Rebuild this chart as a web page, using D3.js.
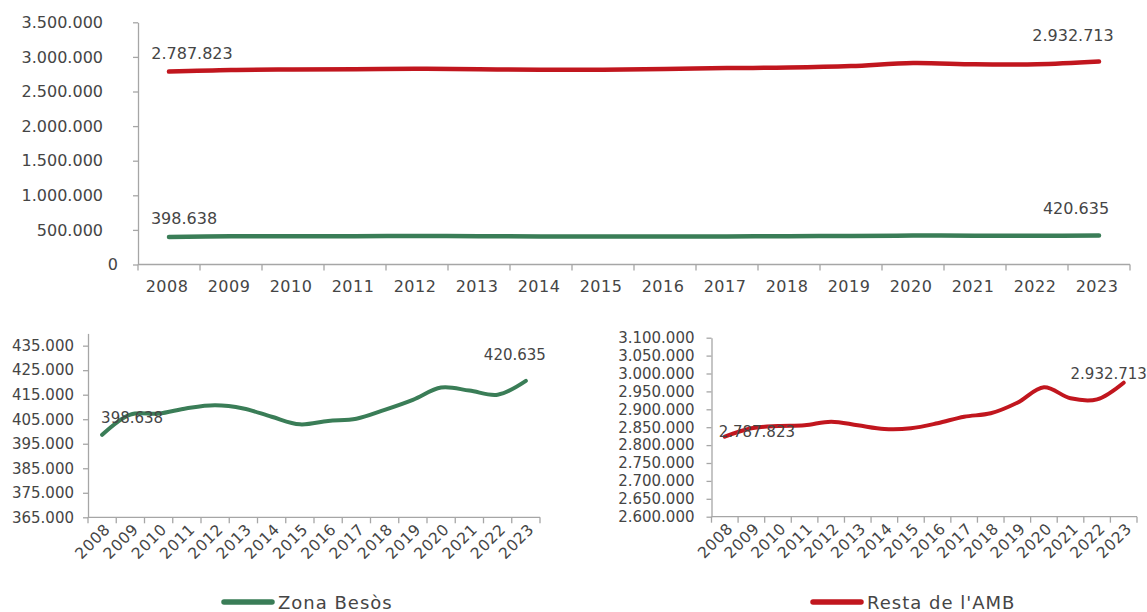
<!DOCTYPE html>
<html>
<head>
<meta charset="utf-8">
<script src="https://cdn.jsdelivr.net/npm/d3@7"></script>
<style>
  body { margin: 0; background: #fff; }
  svg { display: block; font-family: "DejaVu Sans", sans-serif; }
</style>
</head>
<body>
<div id="chart"></div>
<script>
// Years on every x axis
const years = ['2008', '2009', '2010', '2011', '2012', '2013', '2014', '2015',
  '2016', '2017', '2018', '2019', '2020', '2021', '2022', '2023'];

// Zona Besòs (green), same values in the top chart and the bottom-left chart
const zonaBesos = [398638, 406900, 407300, 409500, 410700, 409400, 406000, 402900,
  404300, 405200, 408800, 412900, 417900, 416700, 415000, 420635];

// Resta de l'AMB (red) as drawn in the top chart
const restaAmb = [2787823, 2812000, 2818000, 2820000, 2828000, 2822000, 2814000, 2815000,
  2824000, 2838000, 2846000, 2868000, 2912000, 2892000, 2893000, 2932713];

// Resta de l'AMB as drawn in the bottom-right detail chart
const restaAmbDetail = [2823500, 2846900, 2853400, 2855300, 2865400, 2855300, 2845000, 2847000,
  2861000, 2879300, 2888800, 2918400, 2961500, 2930700, 2927900, 2974300];

// Y axis ticks
const topTicks = [0, 500000, 1000000, 1500000, 2000000, 2500000, 3000000, 3500000];
const besosTicks = [365000, 375000, 385000, 395000, 405000, 415000, 425000, 435000];
const restaTicks = [2600000, 2650000, 2700000, 2750000, 2800000, 2850000, 2900000,
  2950000, 3000000, 3050000, 3100000];

// Labels shown at the ends of the lines
const besosLabels = ['398.638', '420.635'];
const restaLabels = ['2.787.823', '2.932.713'];

const RED = '#c1161e';
const GREEN = '#3a7d57';
const AXIS = '#a6a6a6';
const TEXT = '#454545';
const FONT = '"DejaVu Sans", sans-serif';

const width = 1147, height = 612;

const locale = d3.formatLocale({ decimal: ',', thousands: '.', grouping: [3], currency: ['', ''] });
const fmt = locale.format(',d');

const svg = d3.select('#chart').append('svg')
  .attr('width', width)
  .attr('height', height);

svg.append('rect').attr('width', width).attr('height', height).attr('fill', '#fff');

const curve = d3.curveCatmullRom.alpha(0.5);

function drawPanel(cfg) {
  const g = svg.append('g');

  const x = d3.scaleBand().domain(years).range(cfg.xRange).paddingInner(0).paddingOuter(0);
  const y = d3.scaleLinear().domain(cfg.yDomain).range(cfg.yRange);
  const axisY = y(cfg.yDomain[0]);

  // y axis
  const ya = g.append('g')
    .attr('transform', `translate(${cfg.xRange[0]},0)`)
    .call(d3.axisLeft(y).tickValues(cfg.ticks).tickFormat(fmt)
      .tickSize(5).tickSizeOuter(0).tickPadding(cfg.tickPad));
  ya.attr('font-family', FONT);
  ya.select('.domain').attr('stroke', AXIS).attr('stroke-width', 1.3);
  ya.selectAll('.tick line').attr('stroke', AXIS).attr('stroke-width', 1.3);
  ya.selectAll('.tick text')
    .attr('font-size', cfg.fontSize)
    .attr('font-family', FONT)
    .attr('fill', TEXT)
    .attr('x', d => -(d === 0 && cfg.zeroPad ? cfg.zeroPad : cfg.tickPad + 5));

  // x axis: line and ticks at band edges
  const xa = g.append('g');
  xa.append('line')
    .attr('x1', cfg.xRange[0]).attr('x2', cfg.xRange[1])
    .attr('y1', axisY).attr('y2', axisY)
    .attr('stroke', AXIS).attr('stroke-width', 1.3);
  const edges = years.map(d => x(d)).concat([cfg.xRange[1]]);
  xa.selectAll('line.xt')
    .data(edges)
    .join('line')
    .attr('class', 'xt')
    .attr('x1', d => d).attr('x2', d => d)
    .attr('y1', axisY).attr('y2', axisY + 6)
    .attr('stroke', AXIS).attr('stroke-width', 1.3);

  const labels = xa.selectAll('text')
    .data(years)
    .join('text')
    .attr('fill', TEXT)
    .attr('font-size', cfg.xFontSize)
    .attr('letter-spacing', cfg.xSpacing)
    .text(d => d);
  if (cfg.rotate) {
    labels.attr('text-anchor', 'end')
      .attr('transform', d => `translate(${x(d) + x.bandwidth() / 2 + 9},${axisY + 13}) rotate(-45)`);
  } else {
    labels.attr('text-anchor', 'middle')
      .attr('x', d => x(d) + x.bandwidth() / 2 - 2)
      .attr('y', axisY + 27);
  }

  const line = d3.line()
    .x((d, i) => x(years[i]) + x.bandwidth() / 2)
    .y(d => y(d))
    .curve(curve);

  cfg.series.forEach(s => {
    g.append('path')
      .datum(s.values)
      .attr('d', line)
      .attr('fill', 'none')
      .attr('stroke', s.color)
      .attr('stroke-width', cfg.lineWidth)
      .attr('stroke-linecap', 'round')
      .attr('stroke-linejoin', 'round');

    // end labels
    const first = 0, last = years.length - 1;
    [[first, s.labels[0], s.off[0]], [last, s.labels[1], s.off[1]]].forEach(([i, txt, off]) => {
      g.append('text')
        .attr('x', x(years[i]) + x.bandwidth() / 2 + off[0])
        .attr('y', y(s.values[i]) + off[1])
        .attr('text-anchor', 'middle')
        .attr('font-size', cfg.labelSize)
        .attr('fill', TEXT)
        .text(txt);
    });
  });
}

// Top chart: both series on one scale
drawPanel({
  xRange: [138, 1130],
  yDomain: [0, 3500000],
  yRange: [264.5, 22.3],
  ticks: topTicks,
  tickPad: 30,
  zeroPad: 20,
  fontSize: 16,
  xFontSize: 16,
  xSpacing: 0.5,
  labelSize: 16,
  lineWidth: 4.5,
  rotate: false,
  series: [
    { values: restaAmb, color: RED, labels: restaLabels, off: [[23, -13], [-26, -21]] },
    { values: zonaBesos, color: GREEN, labels: besosLabels, off: [[15, -13], [-23, -21]] }
  ]
});

// Bottom-left: Zona Besòs
drawPanel({
  xRange: [88, 540],
  yDomain: [365000, 440000],
  yRange: [517.3, 333.4],
  ticks: besosTicks,
  tickPad: 9,
  fontSize: 15,
  xFontSize: 15.5,
  xSpacing: 0.6,
  labelSize: 15,
  lineWidth: 4,
  rotate: true,
  series: [
    { values: zonaBesos, color: GREEN, labels: besosLabels, off: [[30, -12], [-11, -21]] }
  ]
});

// Bottom-right: Resta de l'AMB
drawPanel({
  xRange: [711.5, 1137],
  yDomain: [2600000, 3100000],
  yRange: [516.7, 337.7],
  ticks: restaTicks,
  tickPad: 12,
  fontSize: 15,
  xFontSize: 15.5,
  xSpacing: 0.6,
  labelSize: 15,
  lineWidth: 4,
  rotate: true,
  series: [
    { values: restaAmbDetail, color: RED, labels: restaLabels, off: [[32, 0], [-15, -4]] }
  ]
});

// Legends
const legends = [
  { name: 'Zona Besòs', color: GREEN, x: 224, y: 602 },
  { name: "Resta de l'AMB", color: RED, x: 813, y: 602 }
];
legends.forEach(l => {
  svg.append('line')
    .attr('x1', l.x).attr('x2', l.x + 48)
    .attr('y1', l.y).attr('y2', l.y)
    .attr('stroke', l.color).attr('stroke-width', 5.5)
    .attr('stroke-linecap', 'round');
  svg.append('text')
    .attr('x', l.x + 54)
    .attr('y', l.y + 6.5)
    .attr('font-size', 18)
    .attr('letter-spacing', 1)
    .attr('fill', TEXT)
    .text(l.name);
});
</script>
</body>
</html>
